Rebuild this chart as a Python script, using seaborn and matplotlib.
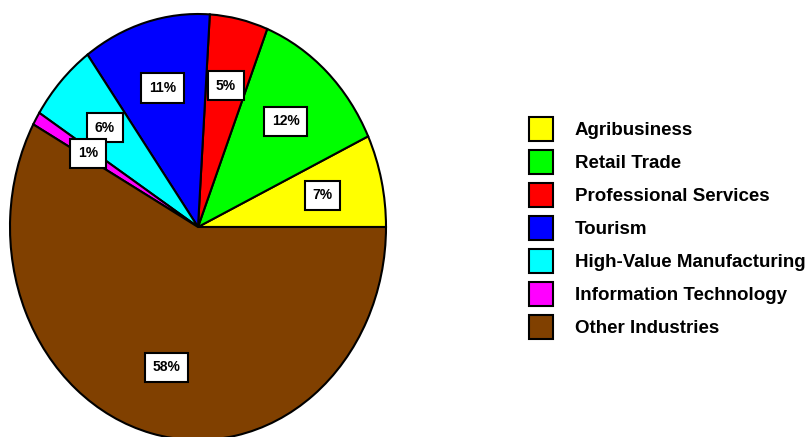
import matplotlib
matplotlib.use("Agg")
import matplotlib.pyplot as plt
import seaborn as sns

categories = ["Agribusiness", "Retail Trade", "Professional Services", "Tourism",
              "High-Value Manufacturing", "Information Technology", "Other Industries"]
values = [7, 12, 5, 11, 6, 1, 58]
colors = ["#ffff00", "#00ff00", "#ff0000", "#0000ff", "#00ffff", "#ff00ff", "#804000"]

sns.set_theme(style="white")
plt.rcParams["font.family"] = ["Liberation Sans", "DejaVu Sans"]
plt.rcParams["text.color"] = "black"

W, H = 812, 437
fig = plt.figure(figsize=(W / 100, H / 100), dpi=100)
fig.patch.set_facecolor("white")
# pie ellipse: x 10..386, y 14..440 (pixels)
ax = fig.add_axes([10 / W, (H - 440) / H, 376 / W, 426 / H])
ax.set_facecolor("white")

pal = sns.color_palette(colors)
wedges, texts, autotexts = ax.pie(
    values, colors=pal, startangle=0, counterclock=True,
    autopct=lambda p: f"{p:.0f}%", pctdistance=0.68,
    wedgeprops=dict(edgecolor="black", linewidth=1.5),
    textprops=dict(fontsize=10, fontweight="bold", color="black"),
)
for t in autotexts:
    t.set_bbox(dict(boxstyle="square,pad=0.55", facecolor="white", edgecolor="black", linewidth=1.5))
ax.set_aspect("auto")
ax.set_xlim(-1, 1)
ax.set_ylim(-1, 1)
ax.axis("off")

leg = fig.legend(wedges, categories, loc="upper left",
                 bbox_to_anchor=(529 / W, (H - 117) / H), frameon=False,
                 borderpad=0, borderaxespad=0,
                 prop=dict(size=13.5, weight="bold"),
                 handlelength=1.28, handleheight=1.59, handletextpad=1.17,
                 labelspacing=0.48)
for t in leg.get_texts():
    t.set_color("black")
for p in leg.get_patches():
    p.set_linewidth(1.5)

fig.savefig("out.png", dpi=100, facecolor="white")
